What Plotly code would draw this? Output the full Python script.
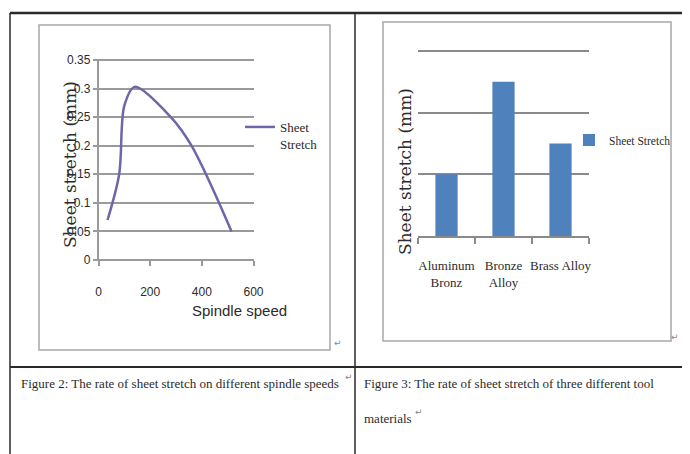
import plotly.graph_objects as go

# ---- data ----
spindle_speed = [35, 80, 100, 140, 280, 360, 515]
sheet_stretch_line = [0.07, 0.15, 0.27, 0.303, 0.25, 0.20, 0.05]

materials = ["Aluminum<br>Bronz", "Bronze<br>Alloy", "Brass Alloy"]
sheet_stretch_bar = [1.0, 2.5, 1.5]

x_ticks = [0, 200, 400, 600]
y_ticks = [0, 0.05, 0.1, 0.15, 0.2, 0.25, 0.3, 0.35]
y_tick_text = ["0", "0.05", "0.1", "0.15", "0.2", "0.25", "0.3", "0.35"]
bar_grid = [0, 1, 2, 3]

W, H = 690, 454
OFF = 8  # page body margin of the browser


def px(x):
    return (x - OFF) / W


def py(y):
    return 1 - (y - OFF) / H


SERIF = "Liberation Serif, Times New Roman, serif"
SANS = "Liberation Sans, Arial, sans-serif"
WIDE_SERIF = "DejaVu Serif, serif"
TXT = "#2b2b2b"
GRID = "#9a9a9a"

# left plot pixel geometry: value 0 at y=260, 0.35 at y=60
L_PER = 200 / 0.35
L_PAD = 0.0025
# right plot: 0 at y=236, 3 at y=51
R_PER = (236 - 51) / 3
R_TOP = 3.03

fig = go.Figure()

fig.add_trace(go.Scatter(
    x=spindle_speed, y=sheet_stretch_line, mode="lines",
    line=dict(color="#6c66aa", width=2.5, shape="spline", smoothing=0.9),
    name="Sheet<br>Stretch", xaxis="x", yaxis="y", legend="legend",
    hoverinfo="x+y",
))

fig.add_trace(go.Bar(
    x=materials, y=sheet_stretch_bar, marker=dict(color="#4f81bd", line=dict(width=0)),
    name="Sheet Stretch", xaxis="x2", yaxis="y2", legend="legend2",
))

fig.update_layout(
    width=W, height=H,
    margin=dict(l=0, r=0, t=0, b=0, autoexpand=False),
    paper_bgcolor="white", plot_bgcolor="rgba(0,0,0,0)",
    showlegend=True,
    font=dict(family=SERIF, color=TXT),
    xaxis=dict(
        domain=[px(98.5), px(253.5)], range=[0, 600],
        tickvals=x_ticks, ticks="outside", ticklen=5, tickcolor=GRID, tickwidth=1.5,
        showgrid=False, zeroline=False, showline=False,
        tickfont=dict(family=SANS, size=12, color=TXT),
        ticklabelstandoff=16, anchor="free", position=py(260), fixedrange=True, tickangle=0,
    ),
    yaxis=dict(
        domain=[py(260 + L_PAD * L_PER), py(60 - L_PAD * L_PER)],
        range=[-L_PAD, 0.35 + L_PAD],
        tickvals=y_ticks, ticktext=y_tick_text,
        ticks="outside", ticklen=4, tickcolor=GRID, tickwidth=1.5,
        showgrid=True, gridcolor=GRID, gridwidth=2,
        showline=True, linecolor=GRID, linewidth=1.5,
        zeroline=False,
        tickfont=dict(family=SANS, size=12, color=TXT),
        anchor="x", fixedrange=True,
    ),
    xaxis2=dict(
        domain=[px(418), px(589)], range=[-0.5, 2.5],
        type="category", tickson="boundaries", ticks="outside", ticklen=6,
        tickcolor="#8a8a8a", tickwidth=1.5,
        showline=True, linecolor="#8a8a8a", linewidth=2,
        showgrid=False, zeroline=False, tickangle=0,
        tickfont=dict(family=SERIF, size=13, color=TXT),
        ticklabelstandoff=16, anchor="y2", fixedrange=True,
    ),
    yaxis2=dict(
        domain=[py(236), py(236 - R_TOP * R_PER)], range=[0, R_TOP], tickvals=bar_grid,
        showticklabels=False, ticks="",
        showgrid=True, gridcolor="#8a8a8a", gridwidth=2,
        zeroline=False, showline=False, anchor="x2", fixedrange=True,
    ),
    bargap=0.61,
    legend=dict(
        x=px(240), y=py(112), xanchor="left", yanchor="top", valign="top",
        bgcolor="rgba(0,0,0,0)", font=dict(family=SERIF, size=13, color=TXT),
        itemwidth=30, tracegroupgap=0,
    ),
    legend2=dict(
        x=px(569), y=py(140), xanchor="left", yanchor="middle",
        bgcolor="rgba(0,0,0,0)", font=dict(family=SERIF, size=11.5, color=TXT),
        itemwidth=30,
    ),
)

shapes = []
# table lines
shapes.append(dict(type="line", xref="paper", yref="paper", x0=px(10), x1=1, y0=py(13), y1=py(13),
                   line=dict(color="#2a2a2a", width=2.5)))
shapes.append(dict(type="line", xref="paper", yref="paper", x0=px(10), x1=1, y0=py(367), y1=py(367),
                   line=dict(color="#2a2a2a", width=2)))
shapes.append(dict(type="line", xref="paper", yref="paper", x0=px(10), x1=px(10), y0=py(13), y1=0,
                   line=dict(color="#2a2a2a", width=1.5)))
shapes.append(dict(type="line", xref="paper", yref="paper", x0=px(355), x1=px(355), y0=py(13), y1=0,
                   line=dict(color="#2a2a2a", width=1.5)))
# chart frames
shapes.append(dict(type="rect", xref="paper", yref="paper", x0=px(39), x1=px(330), y0=py(350), y1=py(25),
                   line=dict(color="#a8a8a8", width=1.5), layer="below"))
shapes.append(dict(type="rect", xref="paper", yref="paper", x0=px(383), x1=px(671), y0=py(341), y1=py(22),
                   line=dict(color="#a8a8a8", width=1.5), layer="below"))
fig.update_layout(shapes=shapes)

ann = []
ann.append(dict(text="Sheet stretch (mm)", x=px(58), y=py(165), xref="paper", yref="paper",
                textangle=-90, showarrow=False, font=dict(family=WIDE_SERIF, size=17, color=TXT)))
ann.append(dict(text="Spindle speed", x=px(190), y=py(321), xref="paper", yref="paper",
                showarrow=False, font=dict(family=SANS, size=15, color=TXT)))
ann.append(dict(text="Sheet stretch (mm)", x=px(405), y=py(172), xref="paper", yref="paper",
                textangle=-90, showarrow=False, font=dict(family=WIDE_SERIF, size=17, color=TXT)))
ann.append(dict(text="Figure 2: The rate of sheet stretch on different spindle speeds",
                x=px(19), y=py(383), xref="paper", yref="paper", xanchor="left", yanchor="middle",
                showarrow=False, font=dict(family=SERIF, size=13, color=TXT)))
ann.append(dict(text="Figure 3: The rate of sheet stretch of three different tool",
                x=px(362), y=py(383), xref="paper", yref="paper", xanchor="left", yanchor="middle",
                showarrow=False, font=dict(family=SERIF, size=13, color=TXT)))
ann.append(dict(text="materials",
                x=px(362), y=py(418), xref="paper", yref="paper", xanchor="left", yanchor="middle",
                showarrow=False, font=dict(family=SERIF, size=13, color=TXT)))
for (mx, my) in [(338, 350), (681, 344), (349, 384), (419, 419)]:
    ann.append(dict(text="\u21b5", x=px(mx), y=py(my), xref="paper", yref="paper",
                    showarrow=False, font=dict(family="DejaVu Sans", size=9, color="#888888")))
fig.update_layout(annotations=ann)

fig.write_html("out.html")
